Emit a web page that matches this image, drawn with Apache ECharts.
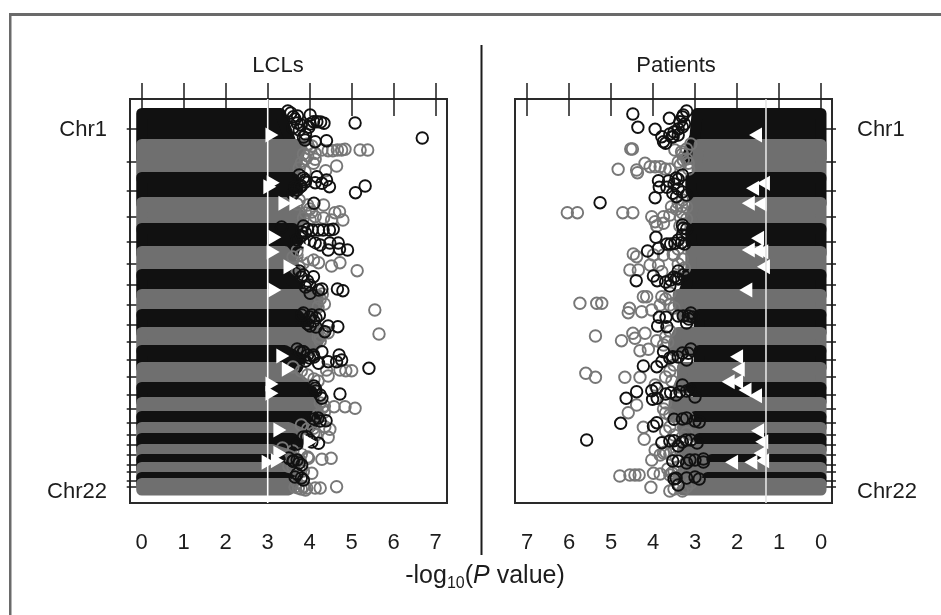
<!DOCTYPE html>
<html><head><meta charset="utf-8">
<style>html,body{margin:0;padding:0;background:#fff}#c{width:941px;height:615px}</style>
<script src="https://cdn.jsdelivr.net/npm/echarts@6/dist/echarts.min.js"></script>
</head><body><div id="c"></div>
<script>
// y unit: genome position in 8 Mb bins from the top of the panel
const xTicks = [0,1,2,3,4,5,6,7];
const chromTicks = [30,62.7,91.7,117.3,142.3,164.3,186,205.7,225.7,242.7,261,278,295.7,309.7,323.3,336,345.7,356,365.3,373,381.3,387.7];
const chromLabelPos = [31,393];
const chromLabels = ['Chr1','Chr22'];
const chromStart = [14.5,45.5,78.5,103.5,129.5,152.5,175.5,195.5,215.5,233.5,251.5,268.5,288.5,303.5,317.5,328.5,339.5,350.5,360.5,368.5,378.5,384.5];
const chromEnd   = [60,80,105,131,155,177,197,216,234,252,269,289,303,318,329,340,351,361,370,378,385,391];
const lclsReach = [[3.3,3.5,3.7],[3.8,3.7,3.6],[3.6,3.7,3.4],[3.5,3.8,3.7],[3.6,3.7,3.6],[3.4,3.6,3.6],[3.4,3.7,3.8],[4.2,4.2,4.0],[3.7,3.9,3.7],[4.2,4.2,4.0],[3.4,3.8,3.7],[3.3,3.7,4.0],[4.0,4.1,4.1],[4.1,4.2,4.2],[4.1,4.1,4.0],[3.5,3.8,3.9],[3.6,3.7,3.5],[3.1,3.5,3.8],[3.3,3.3,3.5],[3.3,3.5,3.7],[3.4,3.6,3.6],[3.5,3.6,3.5]];
const patientsReach = [[2.95,3.0,3.2],[2.9,2.95,2.95],[3.1,3.1,2.95],[3.0,3.1,3.0],[3.1,3.1,3.0],[3.1,3.1,3.1],[3.2,3.2,3.3],[3.4,3.4,3.3],[2.9,2.9,2.9],[3.4,3.5,3.5],[2.9,2.9,2.9],[3.3,3.3,3.4],[3.1,2.9,2.7],[3.5,3.5,3.5],[3.0,2.9,2.7],[3.3,3.2,2.9],[2.9,2.8,2.6],[3.3,3.2,3.2],[2.6,2.4,2.4],[3.1,3.3,3.4],[2.7,2.5,2.5],[2.9,3.0,3.3]];
const lclsBlack = [[4.01,16],[3.71,17],[3.61,17.7],[4.17,22.7],[4.01,25],[4.34,24.3],[4.26,23],[4.09,22.7],[3.98,28.3],[5.08,24],[4.40,41.7],[4.13,42.7],[3.89,41],[6.68,39],[4.17,77.7],[4.13,83.7],[4.29,84.3],[4.40,81],[4.47,87.7],[3.89,81],[3.77,88],[5.09,93.7],[5.32,87],[4.10,104.3],[4.06,131],[4.21,131],[4.32,131],[4.47,131],[4.56,130.3],[3.81,132.7],[3.33,128],[4.13,144],[4.25,146],[4.48,144],[4.68,144],[4.44,151],[4.71,150],[4.90,151],[4.01,142.7],[4.09,177.7],[3.85,176],[4.29,190],[4.21,191],[4.66,190],[4.79,191.7],[4.01,194.3],[3.81,216],[4.05,216],[4.23,216],[4.67,227.7],[4.44,227],[4.01,227],[4.36,232.7],[4.15,228],[4.29,252.7],[4.70,256],[4.09,256],[4.44,262.7],[4.64,262.7],[4.76,261],[4.21,264.3],[5.41,269.3],[3.77,252.7],[3.85,252.7],[4.13,289.3],[4.29,299.3],[4.72,295],[4.39,321.7],[4.21,344.3],[3.93,337.7],[3.81,366],[3.61,362]];
const lclsGrey = [[4.13,54.3],[4.44,51.7],[4.55,51.7],[4.66,51],[4.76,51],[4.84,50.3],[5.20,51],[5.38,51],[4.29,51],[4.64,67],[4.38,71.7],[4.13,60.3],[4.09,64.3],[3.89,72.7],[4.33,106],[4.71,112.7],[4.60,113.7],[4.79,121],[4.52,121],[4.33,119],[4.13,117.7],[4.01,121],[4.21,163.7],[4.52,167],[4.72,163.7],[5.13,171.7],[4.09,161],[5.55,211],[5.65,235],[4.44,233.7],[4.32,234.3],[4.25,237.7],[4.40,271],[4.44,277],[4.72,271],[4.86,271.7],[5.0,271.7],[4.35,307],[4.58,307.7],[4.84,307.7],[5.08,309.3],[4.36,327.7],[4.48,330.3],[4.44,338.3],[4.09,329.3],[4.29,360.3],[4.51,359.3],[3.97,359.3],[4.05,374.3],[3.73,389],[3.93,389],[4.13,389],[4.25,389],[4.64,387.7],[3.85,387.7]];
const lclsEdgeBlack = [[3.55,14],[3.65,20],[3.48,12],[3.8,26],[3.75,31],[3.9,35],[3.7,24],[3.6,29],[3.85,38],[3.75,76],[3.85,79],[3.9,83],[3.8,87],[3.7,91],[3.6,95],[3.65,88],[3.85,127],[3.95,130],[3.9,134],[3.8,137],[3.7,141],[3.85,143],[3.65,174],[3.8,178],[3.95,182],[4.0,186],[3.9,188],[3.75,172],[3.85,214],[4.0,218],[4.1,222],[3.95,225],[4.15,219],[3.7,250],[3.85,253],[3.95,256],[4.0,259],[3.9,262],[4.1,258],[4.1,287],[4.15,292],[4.25,296],[4.2,319],[4.25,322],[4.1,320],[3.85,338],[4.0,341],[4.05,343],[3.7,345],[3.5,359],[3.6,362],[3.7,361],[3.75,364],[3.7,375],[3.8,379],[3.85,381],[3.65,378]];
const lclsEdgeGrey = [[3.95,45],[4.0,50],[3.85,55],[3.9,60],[3.8,64],[3.75,69],[4.05,47],[3.95,57],[3.75,101],[3.95,106],[4.0,110],[3.9,114],[4.05,113],[3.85,119],[3.7,105],[3.7,152],[3.8,156],[3.95,160],[3.85,164],[3.75,168],[3.6,158],[4.3,195],[4.25,200],[4.35,205],[4.2,208],[4.3,232],[4.2,238],[4.25,242],[3.6,268],[3.8,272],[3.95,276],[4.1,280],[4.2,282],[4.25,304],[4.3,309],[4.35,313],[4.2,316],[3.8,326],[3.95,330],[4.1,334],[4.15,336],[3.35,349],[3.6,352],[3.8,355],[3.95,358],[3.5,367],[3.75,370],[3.85,372],[3.6,368],[3.7,384],[3.8,390],[3.9,391],[3.65,388]];
const patientsBlack = [[4.48,15],[4.36,28.3],[3.95,30.3],[3.61,19.3],[3.79,37.7],[3.70,44.3],[3.52,37.7],[3.36,22.7],[3.28,16],[3.75,42.7],[3.40,36],[3.87,81.7],[3.85,88.3],[3.63,82],[3.67,88.3],[3.40,80.3],[3.95,98.7],[3.53,94.3],[3.44,97.7],[5.26,103.7],[3.28,129.3],[3.93,138.3],[4.13,152],[3.67,145],[3.58,145],[3.48,144.3],[3.32,143.7],[3.87,149.3],[4.40,181.7],[3.99,177],[3.90,181.7],[3.58,181],[3.44,179.3],[3.28,176],[3.85,218.3],[3.69,218.3],[3.40,217],[3.28,217],[3.16,217],[3.89,227],[3.67,227.7],[3.75,252.7],[3.79,262.7],[4.23,267],[3.91,267.7],[3.53,257.7],[3.16,254.3],[4.39,292.7],[4.64,299.3],[4.03,291.7],[3.91,289.3],[4.01,300.3],[3.90,299.3],[3.58,293.7],[3.36,292.7],[3.12,291],[4.77,324.3],[3.99,327],[3.91,323.7],[3.50,320.3],[3.79,343.7],[3.50,341.7],[3.21,341],[5.58,341],[3.53,362],[3.12,361],[2.80,360],[3.45,379.3],[3.40,386]];
const patientsGrey = [[4.49,50],[4.53,50],[4.83,70.3],[4.39,71],[4.37,73.7],[4.19,64.3],[4.07,67.7],[3.95,67.7],[3.83,67.7],[3.71,70],[3.60,70.3],[3.48,51],[3.28,61],[3.32,52.7],[3.16,64.3],[4.72,113.7],[4.48,113.7],[6.04,113.7],[5.80,113.7],[4.03,117.7],[3.75,117.7],[3.91,127],[3.75,124.3],[3.95,122.7],[3.56,107.7],[3.44,110.3],[3.32,107],[3.36,127],[3.60,116],[4.47,155],[4.39,157.7],[4.55,171],[4.35,171],[4.07,166],[3.87,166],[3.79,172.7],[3.75,156],[3.99,156],[3.52,155],[4.23,197.7],[4.15,197.7],[3.79,197.7],[4.56,209.3],[4.59,213.7],[4.27,212.7],[4.03,211],[3.83,206],[5.74,204.3],[5.34,204.3],[5.22,204.3],[4.75,241.7],[4.48,234.3],[4.43,239.3],[4.19,234.3],[4.31,251.7],[4.11,250.3],[3.91,241.7],[5.37,237],[4.67,278.3],[4.31,278.3],[3.95,286],[5.60,274.3],[5.37,278.3],[4.39,306],[4.59,313.7],[3.18,318.3],[4.23,328.3],[4.21,340.3],[3.95,351],[4.03,361],[3.83,356],[3.75,354],[4.79,377],[4.55,376],[4.43,376],[4.33,376],[3.99,374.3],[3.83,375],[3.60,376],[4.05,388.3]];
const patientsEdgeBlack = [[3.2,12],[3.3,18],[3.25,25],[3.4,30],[3.5,33],[3.6,35],[3.55,38],[3.3,28],[3.3,76],[3.45,79],[3.5,85],[3.4,90],[3.3,93],[3.2,96],[3.3,126],[3.2,130],[3.3,136],[3.4,141],[3.25,145],[3.4,172],[3.5,178],[3.7,183],[3.6,187],[3.4,180],[3.1,214],[3.15,220],[3.2,224],[3.05,218],[3.1,250],[3.3,254],[3.4,258],[3.2,261],[3.6,259],[3.3,286],[3.2,292],[3.45,296],[3.0,298],[3.7,295],[3.2,319],[3.0,322],[3.3,320],[2.9,323],[3.1,341],[3.3,343],[3.6,342],[2.95,344],[3.4,347],[3.0,361],[2.8,363],[3.2,364],[3.4,362],[3.0,378],[3.2,379],[2.9,380],[3.5,380]];
const patientsEdgeGrey = [[3.1,45],[3.2,50],[3.3,55],[3.2,60],[3.35,66],[3.15,70],[3.4,63],[3.3,101],[3.2,108],[3.4,104],[3.3,114],[3.2,120],[3.35,118],[3.4,150],[3.5,156],[3.3,160],[3.4,165],[3.25,169],[3.6,194],[3.7,200],[3.6,206],[3.5,209],[3.6,232],[3.7,238],[3.65,243],[3.75,246],[3.5,266],[3.6,272],[3.7,278],[3.55,282],[3.7,304],[3.75,310],[3.7,314],[3.6,316],[3.6,328],[3.7,332],[3.5,336],[3.3,338],[3.2,334],[3.5,350],[3.6,355],[3.45,358],[3.7,353],[3.4,368],[3.5,372],[3.65,370],[3.55,374],[3.1,384],[3.2,388],[3.5,390],[3.4,386],[3.6,392],[3.3,392]];
const lclsTriangles = [[3.10,36],[3.13,83.7],[3.05,87.7],[3.41,104.3],[3.67,104.3],[3.17,138.3],[3.13,153],[4.01,151.7],[3.53,167.7],[3.17,191],[3.36,257],[3.49,270.3],[3.10,285],[3.10,294.3],[3.29,331],[4.01,342.7],[3.29,354.3],[3.01,363.3],[3.23,361.7]];
const patientsTriangles = [[1.56,36],[1.37,84.3],[1.63,89.3],[1.73,104.3],[1.45,105],[1.51,139.3],[1.73,151],[1.53,151.7],[1.41,152.7],[1.37,167.7],[1.79,191],[2.01,257.7],[1.97,270.3],[2.21,282.7],[2.01,282.7],[1.81,291],[1.56,296.7],[1.51,331.7],[1.41,342.7],[1.45,354.3],[2.13,363.3],[1.67,363.3],[1.39,361.7]];
const lclsThreshold = 3;
const patientsThreshold = 1.31;

const BLACK='#111111', GREY='#6f6f6f', INK='#1c1c1c';
const FF='Liberation Sans';
const bandRows = reach => chromStart.map((s,i)=>[s,chromEnd[i],reach[i][0],reach[i][1],reach[i][2],i%2]);
function renderBand(params, api){
  const y0=api.value(0), y1=api.value(1), ym=(y0+y1)/2, c=api.value(5)?GREY:BLACK;
  const pts=[[0,y0],[api.value(2),y0],[api.value(3),ym],[api.value(4),y1],[0,y1]].map(p=>api.coord(p));
  return {type:'polygon',shape:{points:pts},style:{fill:c,stroke:c,lineWidth:11,lineJoin:'round'}};
}
function circles(data,color,xi,yi,z){return {type:'scatter',xAxisIndex:xi,yAxisIndex:yi,data,symbol:'circle',symbolSize:11.5,z,silent:true,
  itemStyle:{color:'rgba(0,0,0,0)',borderColor:color,borderWidth:1.9,opacity:1}};}
function panel(reach,black,grey,edgeBlack,edgeGrey,tri,thr,rot,lineColor,xi,yi){return [
  {type:'custom',xAxisIndex:xi,yAxisIndex:yi,data:bandRows(reach),renderItem:renderBand,z:2,silent:true,clip:false,encode:{x:[2,3,4],y:[0,1]}},
  circles(edgeGrey,'#777777',xi,yi,3),
  circles(grey,'#777777',xi,yi,3),
  circles(edgeBlack,BLACK,xi,yi,4),
  circles(black,BLACK,xi,yi,4),
  {type:'scatter',xAxisIndex:xi,yAxisIndex:yi,data:tri,symbol:'triangle',symbolSize:[15,13],symbolRotate:rot,z:5,silent:true,itemStyle:{color:'#ffffff',opacity:1}},
  {type:'line',xAxisIndex:xi,yAxisIndex:yi,data:[[thr,0],[thr,404]],showSymbol:false,z:6,silent:true,lineStyle:{color:lineColor,width:1.6}}
];}
const tickStyle={lineStyle:{color:INK,width:1.5}};
function xAxes(g,min,max,inv){return [
 {type:'value',gridIndex:g,position:'bottom',offset:4,min,max,inverse:inv,splitLine:{show:false},axisLine:{show:false},
  axisTick:{show:true,length:17,customValues:xTicks,...tickStyle},
  axisLabel:{show:true,customValues:xTicks,margin:25,fontSize:22,color:INK,fontFamily:FF}},
 {type:'value',gridIndex:g,position:'top',min,max,inverse:inv,splitLine:{show:false},axisLine:{show:false},
  axisTick:{show:true,length:16,customValues:xTicks,...tickStyle},axisLabel:{show:false}}
];}
function yAxis(g,pos,margin){return {type:'value',gridIndex:g,position:pos,min:0,max:404,inverse:true,splitLine:{show:false},axisLine:{show:false},
  axisTick:{show:true,length:15,customValues:chromTicks,...tickStyle},
  axisLabel:{show:true,customValues:chromLabelPos,margin,fontSize:22,color:INK,fontFamily:FF,
   formatter:v=>chromLabels[chromLabelPos.indexOf(v)]||''}};}
const gridBase={show:true,top:99,height:404,width:317,borderColor:'#2a2a2a',borderWidth:2,backgroundColor:'#fff'};
const chart=echarts.init(document.getElementById('c'),null,{renderer:'canvas'});
chart.setOption({
 animation:false,backgroundColor:'#fff',
 grid:[{...gridBase,left:130},{...gridBase,left:515}],
 xAxis:[...xAxes(0,-0.279,7.269,false),...xAxes(1,-0.262,7.286,true)],
 yAxis:[yAxis(0,'left',23),yAxis(1,'right',25)],
 series:[...panel(lclsReach,lclsBlack,lclsGrey,lclsEdgeBlack,lclsEdgeGrey,lclsTriangles,lclsThreshold,-90,'#ffffff',0,0),
         ...panel(patientsReach,patientsBlack,patientsGrey,patientsEdgeBlack,patientsEdgeGrey,patientsTriangles,patientsThreshold,90,'#e4e4e4',2,1)],
 graphic:[
  {type:'rect',z:0,shape:{x:9,y:13,width:932,height:3},style:{fill:'#6a6a6a'}},
  {type:'rect',z:0,shape:{x:9,y:13,width:2.5,height:602},style:{fill:'#6a6a6a'}},
  {type:'rect',z:0,shape:{x:480.5,y:45,width:2,height:510},style:{fill:INK}},
  {type:'text',z:10,style:{x:278,y:66,align:'center',verticalAlign:'middle',text:'LCLs',font:'22px "Liberation Sans"',fill:INK}},
  {type:'text',z:10,style:{x:676,y:66,align:'center',verticalAlign:'middle',text:'Patients',font:'22px "Liberation Sans"',fill:INK}},
  {type:'text',z:10,style:{x:485,y:576,align:'center',verticalAlign:'middle',text:'-log{s|10}({i|P} value)',font:'25px "Liberation Sans"',fill:INK,
    rich:{s:{fontSize:16,fontFamily:FF,fill:INK,padding:[16,0,0,0]},i:{fontSize:25,fontStyle:'italic',fontFamily:FF,fill:INK}}}}
 ]
});
</script></body></html>
